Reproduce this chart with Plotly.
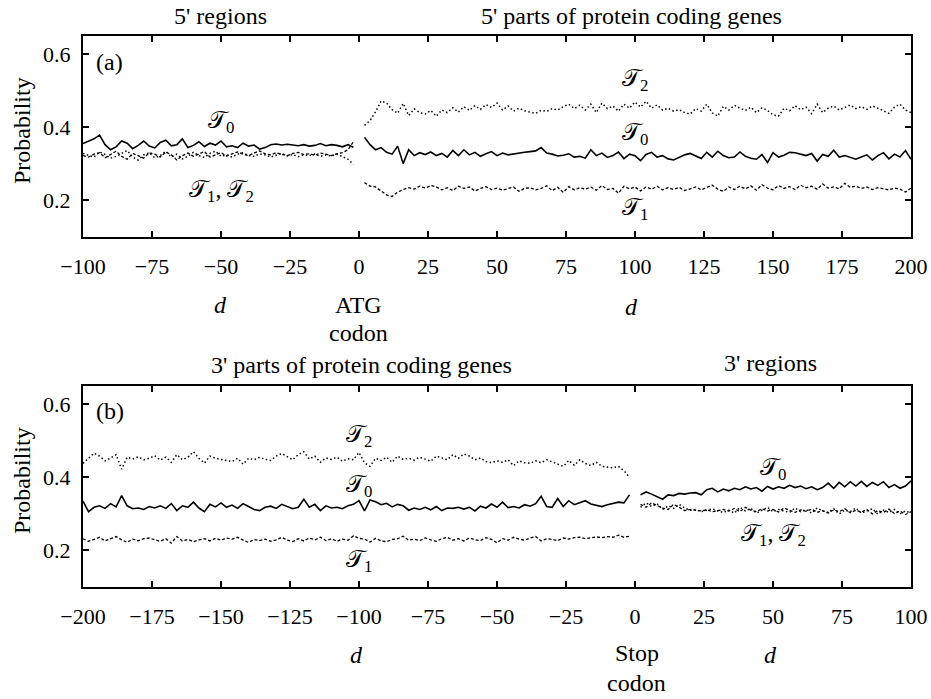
import plotly.graph_objects as go

# ---------------- data ----------------
# Panel (a): 5' regions (d = -100 .. -2 step 2)
d_a5 = list(range(-100, 0, 2))
a5_T0 = [0.355, 0.362, 0.368, 0.378, 0.352, 0.338, 0.346, 0.362, 0.356, 0.341,
         0.350, 0.362, 0.348, 0.343, 0.358, 0.364, 0.349, 0.352, 0.368, 0.344,
         0.350, 0.360, 0.347, 0.356, 0.351, 0.362, 0.346, 0.349, 0.344, 0.356,
         0.348, 0.351, 0.340, 0.344, 0.352, 0.354, 0.351, 0.353, 0.350, 0.349,
         0.352, 0.348, 0.350, 0.355, 0.349, 0.352, 0.350, 0.346, 0.352, 0.345]
a5_T1 = [0.322, 0.318, 0.326, 0.330, 0.316, 0.324, 0.334, 0.320, 0.312, 0.328,
         0.322, 0.315, 0.330, 0.326, 0.318, 0.332, 0.324, 0.310, 0.322, 0.329,
         0.320, 0.326, 0.333, 0.318, 0.325, 0.330, 0.321, 0.327, 0.332, 0.326,
         0.322, 0.329, 0.335, 0.327, 0.324, 0.330, 0.326, 0.322, 0.328, 0.331,
         0.325, 0.327, 0.323, 0.329, 0.326, 0.322, 0.327, 0.330, 0.338, 0.360]
a5_T2 = [0.328, 0.322, 0.318, 0.332, 0.325, 0.315, 0.320, 0.328, 0.336, 0.318,
         0.310, 0.324, 0.330, 0.316, 0.322, 0.334, 0.318, 0.326, 0.313, 0.320,
         0.331, 0.322, 0.317, 0.328, 0.334, 0.320, 0.324, 0.318, 0.326, 0.330,
         0.322, 0.320, 0.327, 0.324, 0.318, 0.323, 0.328, 0.321, 0.325, 0.319,
         0.324, 0.322, 0.326, 0.320, 0.324, 0.321, 0.326, 0.319, 0.312, 0.298]

# Panel (a): 5' parts of protein coding genes (d = 2 .. 200 step 2)
d_acod = list(range(2, 201, 2))
acod_T0 = [0.372, 0.352, 0.338, 0.344, 0.331, 0.326, 0.348, 0.300, 0.338, 0.322,
           0.330, 0.325, 0.332, 0.322, 0.328, 0.318, 0.336, 0.322, 0.338, 0.324,
           0.331, 0.320, 0.327, 0.333, 0.322, 0.329, 0.324, 0.327, 0.329, 0.331,
           0.333, 0.335, 0.344, 0.329, 0.326, 0.321, 0.323, 0.327, 0.318, 0.320,
           0.315, 0.338, 0.322, 0.329, 0.317, 0.322, 0.332, 0.314, 0.326, 0.322,
           0.308, 0.325, 0.331, 0.318, 0.322, 0.313, 0.310, 0.317, 0.324, 0.328,
           0.320, 0.314, 0.331, 0.318, 0.334, 0.322, 0.316, 0.318, 0.332, 0.320,
           0.315, 0.312, 0.325, 0.303, 0.330, 0.318, 0.323, 0.331, 0.330, 0.326,
           0.322, 0.328, 0.307, 0.325, 0.320, 0.337, 0.318, 0.322, 0.316, 0.312,
           0.318, 0.324, 0.310, 0.322, 0.330, 0.313, 0.326, 0.318, 0.336, 0.312]
acod_T1 = [0.248, 0.238, 0.236, 0.224, 0.214, 0.210, 0.222, 0.229, 0.234, 0.230,
           0.238, 0.233, 0.240, 0.236, 0.228, 0.234, 0.226, 0.238, 0.232, 0.236,
           0.225, 0.232, 0.237, 0.229, 0.233, 0.227, 0.231, 0.236, 0.224, 0.232,
           0.234, 0.228, 0.232, 0.239, 0.226, 0.235, 0.221, 0.237, 0.228, 0.234,
           0.230, 0.236, 0.227, 0.240, 0.229, 0.232, 0.219, 0.238, 0.231, 0.236,
           0.225, 0.236, 0.230, 0.238, 0.228, 0.234, 0.229, 0.235, 0.226, 0.232,
           0.236, 0.228, 0.234, 0.241, 0.230, 0.224, 0.236, 0.229, 0.238, 0.231,
           0.239, 0.227, 0.242, 0.233, 0.228, 0.240, 0.232, 0.237, 0.229, 0.241,
           0.234, 0.238, 0.230, 0.244, 0.233, 0.236, 0.231, 0.246, 0.235, 0.238,
           0.232, 0.236, 0.229, 0.234, 0.231, 0.228, 0.233, 0.230, 0.222, 0.233]
acod_T2 = [0.405, 0.418, 0.442, 0.472, 0.466, 0.448, 0.438, 0.465, 0.432, 0.450,
           0.440, 0.436, 0.446, 0.430, 0.447, 0.440, 0.453, 0.441, 0.456, 0.446,
           0.459, 0.449, 0.462, 0.454, 0.466, 0.447, 0.458, 0.444, 0.452, 0.445,
           0.441, 0.438, 0.446, 0.443, 0.451, 0.447, 0.456, 0.463, 0.451, 0.460,
           0.447, 0.463, 0.440, 0.466, 0.451, 0.458, 0.444, 0.463, 0.452, 0.469,
           0.455, 0.471, 0.452, 0.461, 0.447, 0.452, 0.444, 0.448, 0.440, 0.436,
           0.451, 0.444, 0.463, 0.439, 0.430, 0.457, 0.447, 0.460, 0.452, 0.446,
           0.455, 0.440, 0.453, 0.446, 0.434, 0.430, 0.452, 0.445, 0.459, 0.448,
           0.455, 0.437, 0.463, 0.440, 0.452, 0.458, 0.447, 0.455, 0.461, 0.451,
           0.456, 0.449, 0.458, 0.452, 0.445, 0.438, 0.455, 0.463, 0.447, 0.440]

# Panel (b): 3' parts of protein coding genes (d = -200 .. -2 step 2)
d_bcod = list(range(-200, 0, 2))
bcod_T0 = [0.335, 0.306, 0.318, 0.322, 0.315, 0.328, 0.319, 0.350, 0.322, 0.314,
           0.316, 0.312, 0.320, 0.316, 0.322, 0.315, 0.328, 0.309, 0.322, 0.318,
           0.332, 0.316, 0.306, 0.326, 0.319, 0.330, 0.318, 0.324, 0.315, 0.328,
           0.320, 0.312, 0.309, 0.318, 0.321, 0.315, 0.326, 0.319, 0.314, 0.318,
           0.340, 0.318, 0.326, 0.309, 0.322, 0.316, 0.318, 0.314, 0.322, 0.326,
           0.336, 0.308, 0.338, 0.333, 0.325, 0.329, 0.319, 0.326, 0.322, 0.310,
           0.316, 0.312, 0.318, 0.311, 0.320, 0.309, 0.316, 0.315, 0.318, 0.313,
           0.318, 0.308, 0.321, 0.316, 0.327, 0.318, 0.332, 0.317, 0.320, 0.316,
           0.325, 0.321, 0.328, 0.348, 0.320, 0.318, 0.342, 0.320, 0.336, 0.325,
           0.330, 0.336, 0.327, 0.324, 0.320, 0.325, 0.328, 0.332, 0.330, 0.352]
bcod_T1 = [0.232, 0.225, 0.230, 0.236, 0.226, 0.233, 0.238, 0.229, 0.222, 0.231,
           0.226, 0.232, 0.234, 0.229, 0.225, 0.232, 0.220, 0.238, 0.226, 0.230,
           0.224, 0.229, 0.232, 0.226, 0.233, 0.228, 0.234, 0.231, 0.236, 0.228,
           0.222, 0.230, 0.227, 0.231, 0.225, 0.229, 0.236, 0.228, 0.224, 0.232,
           0.226, 0.234, 0.229, 0.236, 0.227, 0.232, 0.225, 0.231, 0.228, 0.240,
           0.233, 0.231, 0.223, 0.233, 0.226, 0.224, 0.230, 0.232, 0.239, 0.228,
           0.231, 0.227, 0.234, 0.229, 0.225, 0.232, 0.236, 0.228, 0.232, 0.226,
           0.234, 0.229, 0.227, 0.235, 0.230, 0.221, 0.232, 0.228, 0.236, 0.231,
           0.228, 0.234, 0.238, 0.226, 0.232, 0.230, 0.227, 0.234, 0.231, 0.235,
           0.236, 0.232, 0.234, 0.237, 0.235, 0.238, 0.236, 0.242, 0.236, 0.239]
bcod_T2 = [0.438, 0.452, 0.466, 0.458, 0.445, 0.453, 0.462, 0.422, 0.455, 0.450,
           0.456, 0.448, 0.452, 0.459, 0.447, 0.455, 0.441, 0.462, 0.448, 0.455,
           0.470, 0.452, 0.439, 0.458, 0.452, 0.449, 0.446, 0.443, 0.452, 0.436,
           0.452, 0.448, 0.455, 0.449, 0.446, 0.458, 0.465, 0.456, 0.448, 0.462,
           0.470, 0.450, 0.458, 0.441, 0.453, 0.449, 0.455, 0.444, 0.451, 0.448,
           0.468, 0.440, 0.430, 0.452, 0.446, 0.455, 0.441, 0.458, 0.449, 0.452,
           0.447, 0.455, 0.450, 0.444, 0.458, 0.453, 0.448, 0.462, 0.452, 0.464,
           0.458, 0.448, 0.453, 0.443, 0.440, 0.445, 0.441, 0.448, 0.432, 0.445,
           0.440, 0.438, 0.445, 0.440, 0.448, 0.442, 0.436, 0.430, 0.446, 0.433,
           0.448, 0.438, 0.432, 0.441, 0.430, 0.428, 0.426, 0.430, 0.418, 0.400]

# Panel (b): 3' regions (d = 2 .. 100 step 2)
d_b3 = list(range(2, 101, 2))
b3_T0 = [0.352, 0.360, 0.354, 0.348, 0.340, 0.352, 0.350, 0.356, 0.354, 0.357,
         0.358, 0.352, 0.366, 0.370, 0.360, 0.368, 0.363, 0.370, 0.366, 0.374,
         0.368, 0.372, 0.362, 0.375, 0.368, 0.374, 0.370, 0.378, 0.372, 0.376,
         0.369, 0.374, 0.366, 0.372, 0.384, 0.370, 0.386, 0.374, 0.388, 0.376,
         0.389, 0.375, 0.386, 0.378, 0.388, 0.372, 0.380, 0.370, 0.376, 0.390]
b3_T1 = [0.326, 0.318, 0.330, 0.322, 0.316, 0.312, 0.326, 0.318, 0.309, 0.312,
         0.310, 0.308, 0.311, 0.306, 0.309, 0.312, 0.308, 0.315, 0.306, 0.318,
         0.310, 0.306, 0.314, 0.308, 0.312, 0.305, 0.316, 0.309, 0.304, 0.311,
         0.307, 0.313, 0.304, 0.309, 0.302, 0.311, 0.306, 0.314, 0.303, 0.310,
         0.305, 0.312, 0.300, 0.309, 0.304, 0.313, 0.301, 0.308, 0.298, 0.306]
b3_T2 = [0.318, 0.330, 0.320, 0.328, 0.312, 0.322, 0.315, 0.326, 0.316, 0.310,
         0.312, 0.306, 0.310, 0.314, 0.308, 0.304, 0.310, 0.302, 0.318, 0.308,
         0.315, 0.302, 0.310, 0.318, 0.306, 0.312, 0.308, 0.304, 0.316, 0.306,
         0.312, 0.302, 0.316, 0.308, 0.304, 0.314, 0.300, 0.310, 0.306, 0.316,
         0.302, 0.308, 0.314, 0.299, 0.310, 0.304, 0.312, 0.300, 0.308, 0.302]

x_range_a = [-100, 200]
x_range_b = [-200, 100]
y_range = [0.1, 0.65]
x_ticks_a = list(range(-100, 201, 25))
x_ticks_b = list(range(-200, 101, 25))
y_ticks = [0.2, 0.4, 0.6]

# ---------------- figure ----------------
FONT = "Liberation Serif"
W, H = 931, 699
ML, MR, MT, MB = 83, 20, 36, 112
fig = go.Figure()

styles = {
    "T0": dict(color="black", width=1.6, dash="solid"),
    "T1": dict(color="black", width=1.3, dash="3px,2px"),
    "T2": dict(color="black", width=1.5, dash="1.5px,2.5px"),
}

def add(x, y, key, xa, ya):
    fig.add_trace(go.Scatter(x=x, y=y, mode="lines", line=styles[key],
                             xaxis=xa, yaxis=ya, showlegend=False,
                             hoverinfo="skip"))

add(d_a5, a5_T2, "T2", "x", "y")
add(d_a5, a5_T1, "T1", "x", "y")
add(d_a5, a5_T0, "T0", "x", "y")
add(d_acod, acod_T2, "T2", "x", "y")
add(d_acod, acod_T1, "T1", "x", "y")
add(d_acod, acod_T0, "T0", "x", "y")
add(d_bcod, bcod_T2, "T2", "x2", "y2")
add(d_bcod, bcod_T1, "T1", "x2", "y2")
add(d_bcod, bcod_T0, "T0", "x2", "y2")
add(d_b3, b3_T2, "T2", "x2", "y2")
add(d_b3, b3_T1, "T1", "x2", "y2")
add(d_b3, b3_T0, "T0", "x2", "y2")

axis_common = dict(showline=True, linecolor="black", linewidth=2,
                   mirror="allticks", ticks="inside", ticklen=6,
                   tickwidth=1.5, tickcolor="black", showgrid=False,
                   zeroline=False, automargin=False,
                   tickfont=dict(family=FONT, size=22, color="black"))

fig.update_layout(
    width=W, height=H,
    margin=dict(l=ML, r=MR, t=MT, b=MB),
    plot_bgcolor="white", paper_bgcolor="white",
    font=dict(family=FONT, size=22, color="black"),
    xaxis=dict(domain=[0, 1], anchor="y", range=x_range_a,
               tickvals=x_ticks_a, ticklabelstandoff=9, **axis_common),
    yaxis=dict(domain=[0.636, 1], anchor="x", range=y_range,
               tickvals=y_ticks, tickformat=".1f", ticklabelstandoff=6,
               **axis_common),
    xaxis2=dict(domain=[0, 1], anchor="y2", range=x_range_b,
                tickvals=x_ticks_b, ticklabelstandoff=9, **axis_common),
    yaxis2=dict(domain=[0, 0.365], anchor="x2", range=y_range,
                tickvals=y_ticks, tickformat=".1f", ticklabelstandoff=6,
                **axis_common),
)

T = "𝒯"
ann = []

def note(text, x, y, xr, yr, size=24, **kw):
    kw.setdefault("xanchor", "center")
    kw.setdefault("yanchor", "middle")
    ann.append(dict(text=text, x=x, y=y, xref=xr, yref=yr, showarrow=False,
                    font=dict(family=FONT, size=size, color="black"), **kw))

def px(xp, yp):
    # page pixel position -> paper coordinates
    return ((xp - ML) / (W - ML - MR), (H - MB - yp) / (H - MT - MB))

def pnote(text, xp, yp, size=24, **kw):
    x, y = px(xp, yp)
    note(text, x, y, "paper", "paper", size=size, **kw)

# Panel (a) inside
note("(a)", -96, 0.58, "x", "y", xanchor="left")
note(T + "<sub>0</sub>", -50, 0.415, "x", "y")
note(T + "<sub>1</sub>, " + T + "<sub>2</sub>", -50, 0.225, "x", "y")
note(T + "<sub>2</sub>", 100, 0.53, "x", "y")
note(T + "<sub>0</sub>", 100, 0.382, "x", "y")
note(T + "<sub>1</sub>", 100, 0.176, "x", "y")
# Panel (a) outside
pnote("5' regions", 220, 16)
pnote("5' parts of protein coding genes", 631.7, 16)
pnote("<i>d</i>", 220, 305)
pnote("ATG", 358, 305)
pnote("codon", 358, 333)
pnote("<i>d</i>", 631.7, 307)

# Panel (b) inside
note("(b)", -196, 0.58, "x2", "y2", xanchor="left")
note(T + "<sub>2</sub>", -100, 0.513, "x2", "y2")
note(T + "<sub>0</sub>", -100, 0.377, "x2", "y2")
note(T + "<sub>1</sub>", -100, 0.172, "x2", "y2")
note(T + "<sub>0</sub>", 50, 0.422, "x2", "y2")
note(T + "<sub>1</sub>, " + T + "<sub>2</sub>", 50, 0.241, "x2", "y2")
# Panel (b) outside
pnote("3' parts of protein coding genes", 361.7, 365)
pnote("3' regions", 770, 363)
pnote("<i>d</i>", 356.7, 655)
pnote("Stop", 636.7, 653)
pnote("codon", 636.7, 683)
pnote("<i>d</i>", 770, 655)

# y-axis titles
pnote("Probability", 22, 131, textangle=-90)
pnote("Probability", 22, 481, textangle=-90)

fig.update_layout(annotations=ann)
# remove the browser's default body margin so the figure fills the window
fig.write_html("out.html",
               config={"displayModeBar": False},
               post_script="document.body.style.margin='0px';"
                           "document.body.style.overflow='hidden';")
